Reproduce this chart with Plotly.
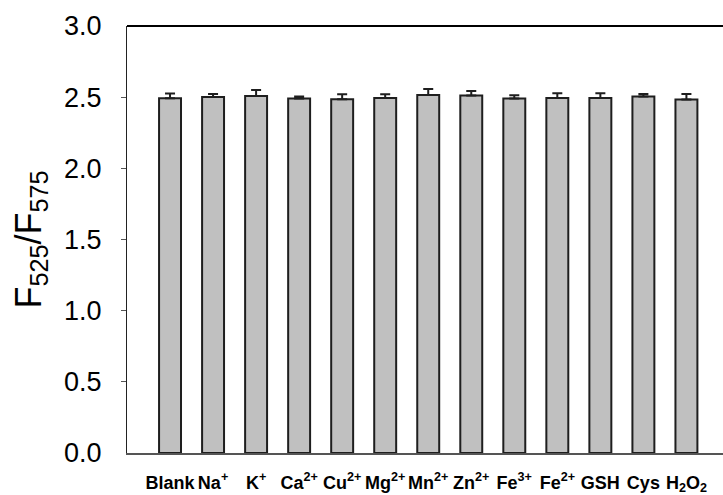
import plotly.graph_objects as go

categories = ["Blank", "Na<sup>+</sup>", "K<sup>+</sup>", "Ca<sup>2+</sup>", "Cu<sup>2+</sup>",
              "Mg<sup>2+</sup>", "Mn<sup>2+</sup>", "Zn<sup>2+</sup>", "Fe<sup>3+</sup>",
              "Fe<sup>2+</sup>", "GSH", "Cys", "H<sub>2</sub>O<sub>2</sub>"]
values = [2.493, 2.502, 2.509, 2.491, 2.486, 2.495, 2.516, 2.512, 2.491, 2.495, 2.495, 2.505, 2.484]
errors = [0.032, 0.021, 0.041, 0.014, 0.035, 0.026, 0.041, 0.031, 0.023, 0.033, 0.033, 0.018, 0.039]
y_ticks = [0.0, 0.5, 1.0, 1.5, 2.0, 2.5, 3.0]
y_tick_marks = [0.5, 1.0, 1.5, 2.0, 2.5]

fig = go.Figure()
fig.add_trace(go.Bar(
    x=list(range(len(categories))), y=values, width=0.51,
    marker=dict(color="#c0c0c0", line=dict(color="#1e1e1e", width=2)),
    error_y=dict(type="data", array=errors, arrayminus=[0]*len(errors),
                 symmetric=False, color="#1e1e1e", thickness=2, width=5),
))

font_family = "Liberation Sans, Arial, sans-serif"
fig.update_layout(
    width=723, height=495,
    margin=dict(l=127, r=0, t=26, b=34),
    plot_bgcolor="white", paper_bgcolor="white",
    showlegend=False,
    font=dict(family=font_family, color="black"),
    xaxis=dict(
        range=[-1, 12.85], tickmode="array",
        tickvals=list(range(len(categories))), ticktext=categories,
        tickangle=0, ticks="outside", ticklen=12, tickcolor="rgba(0,0,0,0)",
        tickfont=dict(size=18, family=font_family, color="black", weight="bold"),
        showline=True, linecolor="#555555", linewidth=2, showgrid=False, zeroline=False,
    ),
    yaxis=dict(
        range=[0, 3.0], tickmode="array", tickvals=y_ticks,
        ticktext=[f"{v:.1f}" for v in y_ticks],
        ticks="outside", ticklen=19, tickcolor="rgba(0,0,0,0)", tickwidth=1,
        minor=dict(tickmode="array", tickvals=[v + 0.001 for v in y_tick_marks],
                   ticks="outside", ticklen=5, tickcolor="#555555", tickwidth=1,
                   showgrid=False),
        tickfont=dict(size=27, family=font_family, color="black"),
        showline=True, linecolor="#222222", linewidth=1, showgrid=False, zeroline=False,
        title=dict(text="F<sub>525</sub>/F<sub>575</sub>",
                   font=dict(size=36, family=font_family, color="black"), standoff=11),
    ),
    shapes=[dict(type="line", xref="paper", yref="paper", x0=0, x1=1, y0=1, y1=1,
                 line=dict(color="black", width=2))],
)

fig.write_html("out.html")
